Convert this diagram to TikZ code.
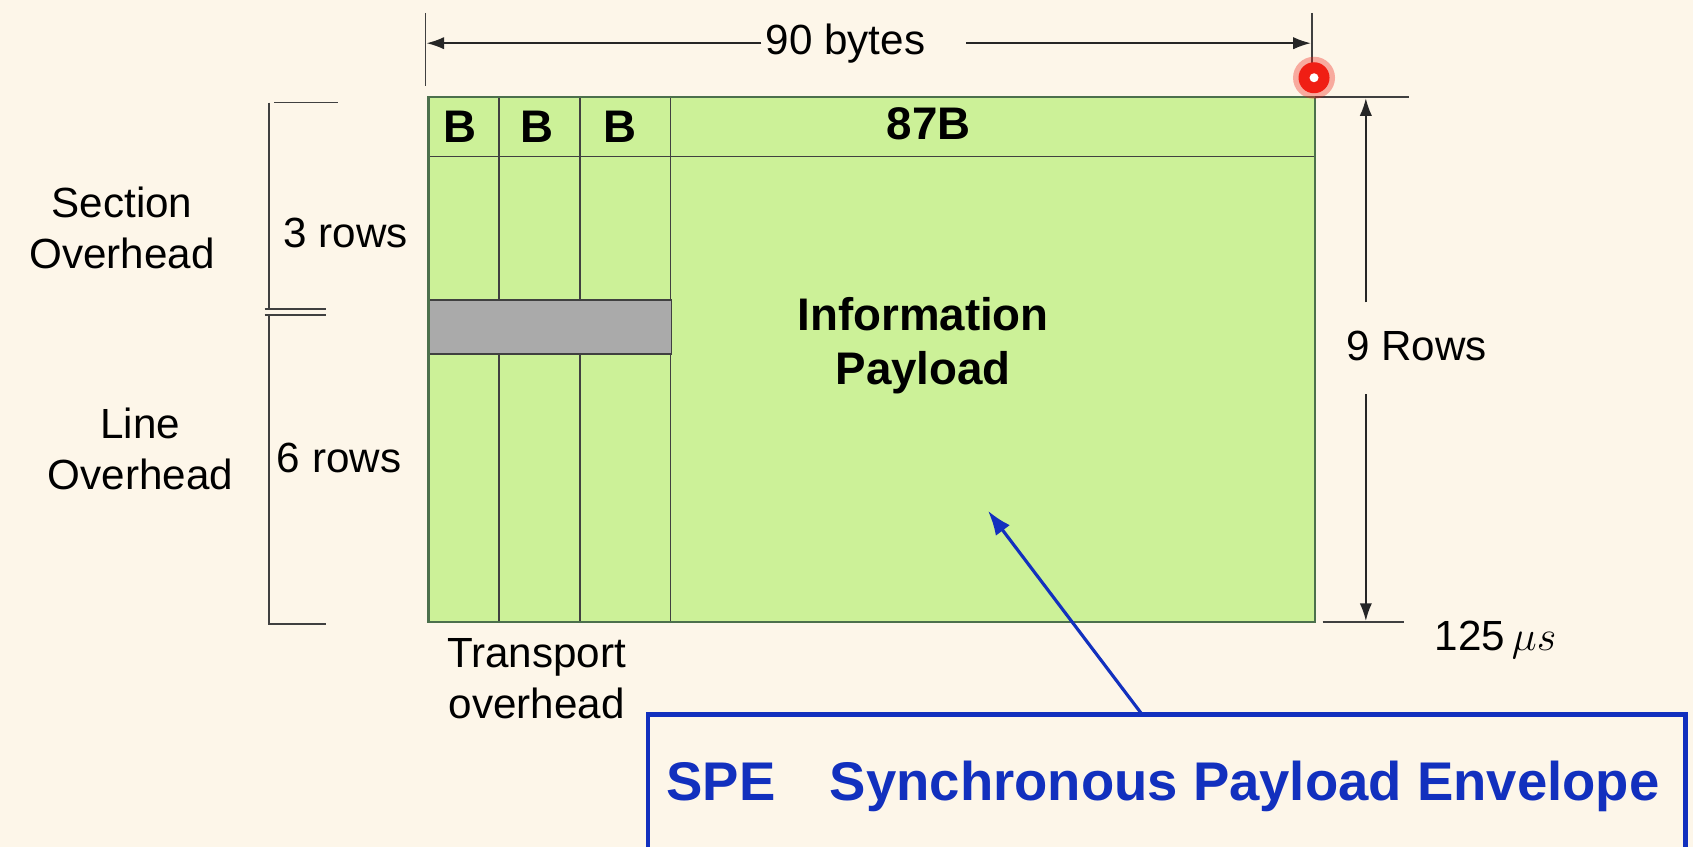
\documentclass[tikz,border=0pt]{standalone}
\usepackage{fontspec}
\setmainfont{Liberation Sans}
\usetikzlibrary{arrows.meta, calc, positioning}
\definecolor{bgcream}{RGB}{253,246,233}
\definecolor{framegreen}{RGB}{204,241,152}
\definecolor{ohgray}{RGB}{170,170,170}
\definecolor{speblue}{RGB}{18,48,190}
\definecolor{dotred}{RGB}{240,30,20}
\tikzset{
  lbl/.style={font=\fontsize{12}{14.5}\selectfont, align=center, inner sep=1pt},
  cell/.style={font=\fontsize{13}{15.5}\selectfont\bfseries, align=center, inner sep=1pt},
  spetext/.style={font=\fontsize{15.5}{18}\selectfont\bfseries, text=speblue, inner sep=1pt},
  dimarr/.style={-{Latex[length=5pt,width=3.5pt]}, line width=0.45pt, black!85},
  tick/.style={line width=0.45pt, black!75},
  gridline/.style={line width=0.5pt, black!75},
  framebox/.style={line width=0.7pt, black!65!green!40!gray},
  spebox/.style={line width=1.3pt, speblue},
  spearr/.style={-{Latex[length=7pt,width=5pt]}, line width=0.9pt, speblue},
}

\begin{document}
\begin{tikzpicture}[x=0.10797mm, y=-0.10797mm]

\useasboundingbox (0,0) rectangle (1568,784);
\fill[bgcream] (0,0) rectangle (1568,784);
\clip (0,0) rectangle (1568,784);

% ---------------------------------------------------------------
%  STS-1 frame
% ---------------------------------------------------------------
\coordinate (fnw) at (397,90);
\coordinate (fse) at (1218,576);

\fill[framegreen] (fnw) rectangle (fse);
\foreach \cx in {462,537,621}
  \draw[gridline] (\cx,90) -- (\cx,576);
\draw[gridline] (397,145) -- (1218,145);
\draw[gridline, fill=ohgray] (397,278) rectangle (622,328);
\draw[framebox] (fnw) rectangle (fse);

% cell labels
\foreach \cx/\nm in {426/b1, 497/b2, 574/b3}
  \node[cell] (\nm) at (\cx,117) {B};
\node[cell] (b87) at (860,115) {87B};
\node[cell] (info) at (855,320) {Information\\Payload};

% ---------------------------------------------------------------
%  90 bytes (top)
% ---------------------------------------------------------------
\draw[tick] (394,12) -- (394,80);
\draw[tick] (1215,12) -- (1215,75);
\coordinate (ltick) at (395,40);
\coordinate (rtick) at (1214,40);
\coordinate (rgap) at (895,40);
\node[lbl] (bytes) at (783,40) {90 bytes};
\draw[dimarr] (bytes.west) -- (ltick);
\draw[dimarr] (rgap) -- (rtick);

% ---------------------------------------------------------------
%  9 Rows (right)
% ---------------------------------------------------------------
\draw[tick] (1218,90) -- (1305,90);
\draw[tick] (1225,576) -- (1300,576);
\coordinate (ttop) at (1265,91);
\coordinate (tbot) at (1265,575);
\coordinate (gtop) at (1265,280);
\coordinate (gbot) at (1265,365);
\node[lbl, anchor=west] (rows9) at (1243,320) {9 Rows};
\draw[dimarr] (gtop) -- (ttop);
\draw[dimarr] (gbot) -- (tbot);
\node[lbl] (usec) at (1385,593) {125\,{$\mu s$}};

% ---------------------------------------------------------------
%  Section / line overhead bracket (left)
% ---------------------------------------------------------------
\draw[tick] (254,95) -- (313,95);
\draw[tick] (249,95) -- (249,286);
\draw[tick] (245,286) -- (302,286) (245,292) -- (302,292);
\draw[tick] (249,292) -- (249,578) -- (302,578);

\node[lbl] (secoh) at (113,211) {Section\\Overhead};
\node[lbl] (lineoh) at (130,416) {Line\\Overhead};
\node[lbl] (rows3) at (320,216) {3 rows};
\node[lbl] (rows6) at (314,424) {6 rows};
\node[lbl] (trans) at (497,629) {Transport\\overhead};

% ---------------------------------------------------------------
%  SPE callout
% ---------------------------------------------------------------
\fill[bgcream] (600,662) rectangle (1561,800);
\draw[spebox] (600,662) rectangle (1561,800);
\node[spetext] (spe) at (1077,728) {SPE\quad Synchronous Payload Envelope};
\coordinate (ptr) at (1058,662);
\coordinate (ptrtip) at (915,473);
\draw[spearr] (ptr) -- (ptrtip);

% pointer dot
\coordinate (dot) at (1217,72);
\fill[dotred, opacity=0.35] (dot) circle (2.1mm);
\fill[dotred] (dot) circle (1.55mm);
\fill[white] (dot) circle (0.45mm);

\end{tikzpicture}
\end{document}
